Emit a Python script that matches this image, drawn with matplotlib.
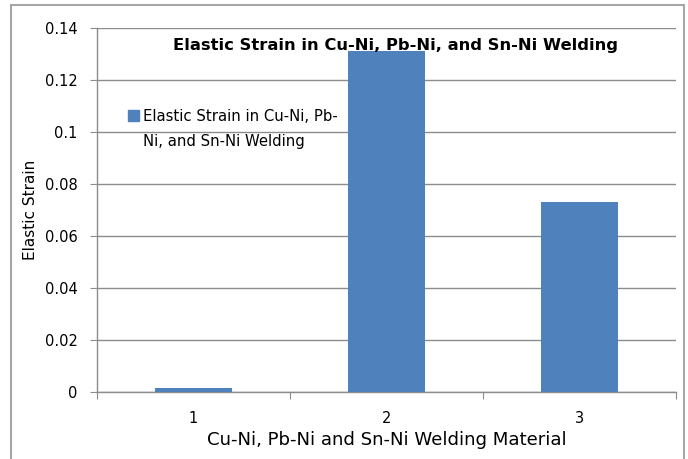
import matplotlib
matplotlib.use("Agg")
import matplotlib.pyplot as plt
from matplotlib.patches import Rectangle

plt.rcParams['font.family'] = ['DejaVu Sans']

# data
categories = [1, 2, 3]
strain = [0.0015, 0.131, 0.073]
series_name = "Elastic Strain in Cu-Ni, Pb-Ni, and Sn-Ni Welding"
yticks = [0, 0.02, 0.04, 0.06, 0.08, 0.1, 0.12, 0.14]
ytick_labels = ["0", "0.02", "0.04", "0.06", "0.08", "0.1", "0.12", "0.14"]

BAR = "#4F81BD"
GRID = "#8C8C8C"

fig = plt.figure(figsize=(6.88, 4.59), dpi=100)
ax = fig.add_axes([97/688, 67/459, 579/688, 364/459])

# outer chart border (bottom edge runs off the image)
fig.patches.append(Rectangle((11/688, -0.05), 673/688, 1.05 - 5/459,
                             transform=fig.transFigure, fill=False,
                             edgecolor="#A6A6A6", lw=1.5, clip_on=False))

bars = ax.bar(categories, strain, width=0.4, color=BAR, zorder=3)

ax.set_xlim(0.5, 3.5)
ax.set_ylim(0, 0.14)
ax.set_yticks(yticks)
ax.set_yticklabels(ytick_labels)
ax.yaxis.grid(True, color=GRID, lw=1)
ax.set_axisbelow(True)

# category boundaries carry the tick marks, labels sit at the centres
ax.set_xticks([0.5, 1.5, 2.5, 3.5])
ax.set_xticklabels([])
ax.set_xticks(categories, minor=True)
ax.set_xticklabels([str(c) for c in categories], minor=True)
ax.tick_params(axis="x", which="minor", length=0, pad=14, labelsize=10.5)
ax.tick_params(axis="x", which="major", length=5, color=GRID, direction="out")
ax.tick_params(axis="y", length=5, color=GRID, labelsize=10.5, pad=9)

for s in ["top", "right"]:
    ax.spines[s].set_visible(False)
for s in ["left", "bottom"]:
    ax.spines[s].set_color(GRID)
    ax.spines[s].set_linewidth(1)

ax.set_xlabel("Cu-Ni, Pb-Ni and Sn-Ni Welding Material", fontsize=13.1, labelpad=3)
ax.set_ylabel("Elastic Strain", fontsize=11, labelpad=5)

ax.text(0.516, 0.953, series_name, transform=ax.transAxes, ha="center",
        va="center", fontsize=11.8, fontweight="bold")

# legend: swatch + wrapped label
ax.add_patch(Rectangle((0.054, 0.744), 0.019, 0.032, transform=ax.transAxes,
                       color=bars[0].get_facecolor(), clip_on=False))
ax.text(0.079, 0.722, "Elastic Strain in Cu-Ni, Pb-\nNi, and Sn-Ni Welding",
        transform=ax.transAxes, ha="left", va="center", fontsize=10.7,
        linespacing=1.8)

fig.savefig("out.png", dpi=100)
